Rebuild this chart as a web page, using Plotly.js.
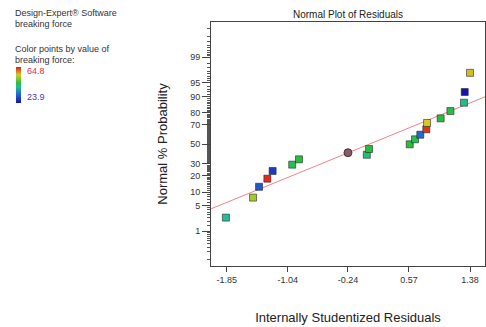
<!DOCTYPE html>
<html>
<head>
<meta charset="utf-8">
<script src="https://cdn.plot.ly/plotly-3.0.1.min.js"></script>
<style>html,body{margin:0;padding:0;background:#fff;}#chart{width:486px;height:327px;}</style>
</head>
<body>
<div id="chart"></div>
<script>
// ---- data ----
const residuals = [-1.86, -1.50, -1.42, -1.31, -1.24, -0.98, -0.89, 0.01, -0.24, 0.04,
                   0.58, 0.65, 0.72, 0.80, 0.81, 0.99, 1.12, 1.30, 1.31, 1.38];
const normalProb = [2.5, 7.7, 12.8, 17.9, 23.8, 29.3, 34.4, 39.0, 41.1, 45.0,
                    50.0, 55.3, 60.1, 65.6, 71.6, 75.6, 81.3, 86.7, 91.9, 97.2];
const breakingForce = [42.3, 53.4, 32.1, 64.0, 28.8, 45.2, 46.4, 43.5, null, 46.4,
                       46.4, 45.2, 34.1, 63.6, 55.8, 46.4, 45.6, 43.1, 23.9, 56.6];
const highlightedIndex = 8;
const forceMin = 23.9, forceMax = 64.8;
const fitX = [-2.06, 1.58];
const fitProb = [4.2, 89.8];
const xTickVals = [-1.85, -1.04, -0.24, 0.57, 1.38];
const xTickText = ['-1.85', '-1.04', '-0.24', '0.57', '1.38'];
const yTickProb = [1, 5, 10, 20, 30, 50, 70, 80, 90, 95, 99];
const yMinorProb = [0.1, 0.2, 0.3, 0.4, 0.5, 0.6, 0.7, 0.8, 0.9, 1.5, 2, 2.5, 3, 3.5, 4, 4.5,
                    6, 7, 8, 9, 11, 12, 13, 14, 15, 16, 17, 18, 19, 21, 22, 23, 24, 25, 26, 27, 28, 29,
                    31, 32, 33, 34, 35, 36, 37, 38, 39, 40, 41, 42, 43, 44, 45, 46, 47, 48, 49,
                    51, 52, 53, 54, 55, 56, 57, 58, 59, 60, 61, 62, 63, 64, 65, 66, 67, 68, 69,
                    71, 72, 73, 74, 75, 76, 77, 78, 79, 81, 82, 83, 84, 85, 86, 87, 88, 89,
                    91, 92, 93, 94, 95.5, 96, 96.5, 97, 97.5, 98, 98.5, 99.1, 99.2, 99.3, 99.4, 99.5, 99.6, 99.7, 99.8, 99.9];

// inverse standard normal CDF (Acklam)
function probit(p) {
  const a = [-3.969683028665376e+01, 2.209460984245205e+02, -2.759285104469687e+02, 1.383577518672690e+02, -3.066479806614716e+01, 2.506628277459239e+00];
  const b = [-5.447609879822406e+01, 1.615858368580409e+02, -1.556989798598866e+02, 6.680131188771972e+01, -1.328068155288572e+01];
  const c = [-7.784894002430293e-03, -3.223964580411365e-01, -2.400758277161838e+00, -2.549732539343734e+00, 4.374664141464968e+00, 2.938163982698783e+00];
  const d = [7.784695709041462e-03, 3.224671290700398e-01, 2.445134137142996e+00, 3.754408661907416e+00];
  const pl = 0.02425, ph = 1 - pl;
  let q, r;
  if (p < pl) { q = Math.sqrt(-2 * Math.log(p)); return (((((c[0]*q+c[1])*q+c[2])*q+c[3])*q+c[4])*q+c[5]) / ((((d[0]*q+d[1])*q+d[2])*q+d[3])*q+1); }
  if (p <= ph) { q = p - 0.5; r = q*q; return (((((a[0]*r+a[1])*r+a[2])*r+a[3])*r+a[4])*r+a[5])*q / (((((b[0]*r+b[1])*r+b[2])*r+b[3])*r+b[4])*r+1); }
  q = Math.sqrt(-2 * Math.log(1 - p)); return -(((((c[0]*q+c[1])*q+c[2])*q+c[3])*q+c[4])*q+c[5]) / ((((d[0]*q+d[1])*q+d[2])*q+d[3])*q+1);
}
const z = v => probit(v / 100);

const sqIdx = residuals.map((_, i) => i).filter(i => i !== highlightedIndex);
const colorscale = [[0, 'rgb(20,20,170)'], [0.22, 'rgb(35,95,210)'], [0.45, 'rgb(35,190,150)'], [0.55, 'rgb(40,190,60)'],
                    [0.78, 'rgb(205,205,40)'], [1, 'rgb(225,30,30)']];

const fitTrace = {
  x: fitX, y: fitProb.map(z), mode: 'lines', type: 'scatter', hoverinfo: 'skip',
  line: {color: 'rgb(240,130,140)', width: 1}, showlegend: false
};
const sqTrace = {
  x: sqIdx.map(i => residuals[i]), y: sqIdx.map(i => z(normalProb[i])),
  mode: 'markers', type: 'scatter', showlegend: false,
  marker: {
    symbol: 'square', size: 7,
    color: sqIdx.map(i => breakingForce[i]), cmin: forceMin, cmax: forceMax, colorscale: colorscale,
    line: {color: 'rgba(30,30,30,0.55)', width: 1},
    showscale: true,
    colorbar: {x: -0.713, xanchor: 'left', xref: 'paper', y: 0.74, yanchor: 'middle', yref: 'paper',
               thickness: 5, thicknessmode: 'pixels', len: 36, lenmode: 'pixels',
               outlinewidth: 0, showticklabels: false, ticks: '', xpad: 0, ypad: 0}
  }
};
const circTrace = {
  x: [residuals[highlightedIndex]], y: [z(normalProb[highlightedIndex])],
  mode: 'markers', type: 'scatter', showlegend: false,
  marker: {symbol: 'circle', size: 8, color: 'rgb(140,90,105)', line: {color: 'rgba(50,30,40,0.8)', width: 1}}
};

const font = 'Liberation Sans, Arial, sans-serif';
const layout = {
  width: 486, height: 327,
  margin: {l: 211, r: 1, t: 22, b: 61, pad: 0},
  paper_bgcolor: '#fff', plot_bgcolor: '#fff',
  font: {family: font, size: 9, color: '#333'},
  title: {text: 'Normal Plot of Residuals', font: {family: font, size: 10, color: '#222'},
          x: 0.5, xref: 'paper', xanchor: 'center', y: 1, yref: 'paper', yanchor: 'bottom', pad: {b: 4}},
  xaxis: {
    range: [-2.058, 1.579], tickmode: 'array', tickvals: xTickVals, ticktext: xTickText,
    ticks: 'outside', ticklen: 5, tickcolor: '#444', showgrid: false, zeroline: false,
    showline: true, linecolor: '#444', linewidth: 1, mirror: true,
    tickfont: {family: font, size: 9, color: '#333'},
    title: {text: 'Internally Studentized Residuals', font: {family: font, size: 13, color: '#222'}, standoff: 29}
  },
  yaxis: {
    range: [-3.254, 3.27], tickmode: 'array', tickvals: yTickProb.map(z), ticktext: yTickProb.map(String),
    ticks: 'outside', ticklen: 8, tickcolor: '#444', showgrid: false, zeroline: false,
    showline: true, linecolor: '#444', linewidth: 1, mirror: true,
    tickfont: {family: font, size: 9, color: '#333'},
    minor: {tickmode: 'array', tickvals: yMinorProb.map(z), ticks: 'outside', ticklen: 3, tickcolor: '#555', showgrid: false},
    title: {text: 'Normal % Probability', font: {family: font, size: 13, color: '#222'}, standoff: 19}
  },
  annotations: [
    {text: 'Design-Expert® Software', x: 13, y: 13},
    {text: 'breaking force', x: 13, y: 24},
    {text: 'Color points by value of', x: 13, y: 49},
    {text: 'breaking force:', x: 13, y: 60},
    {text: String(forceMax), x: 25, y: 71, color: 'rgb(230,50,70)'},
    {text: String(forceMin), x: 25, y: 97, color: 'rgb(60,60,200)'}
  ].map(a => ({
    text: a.text, xref: 'paper', yref: 'paper',
    x: (a.x - 211) / 274, y: (266 - a.y) / 244, xanchor: 'left', yanchor: 'middle',
    showarrow: false, font: {family: font, size: 9, color: a.color || '#333'}
  }))
};

Plotly.newPlot('chart', [fitTrace, sqTrace, circTrace], layout, {displayModeBar: false, staticPlot: true});
</script>
</body>
</html>
